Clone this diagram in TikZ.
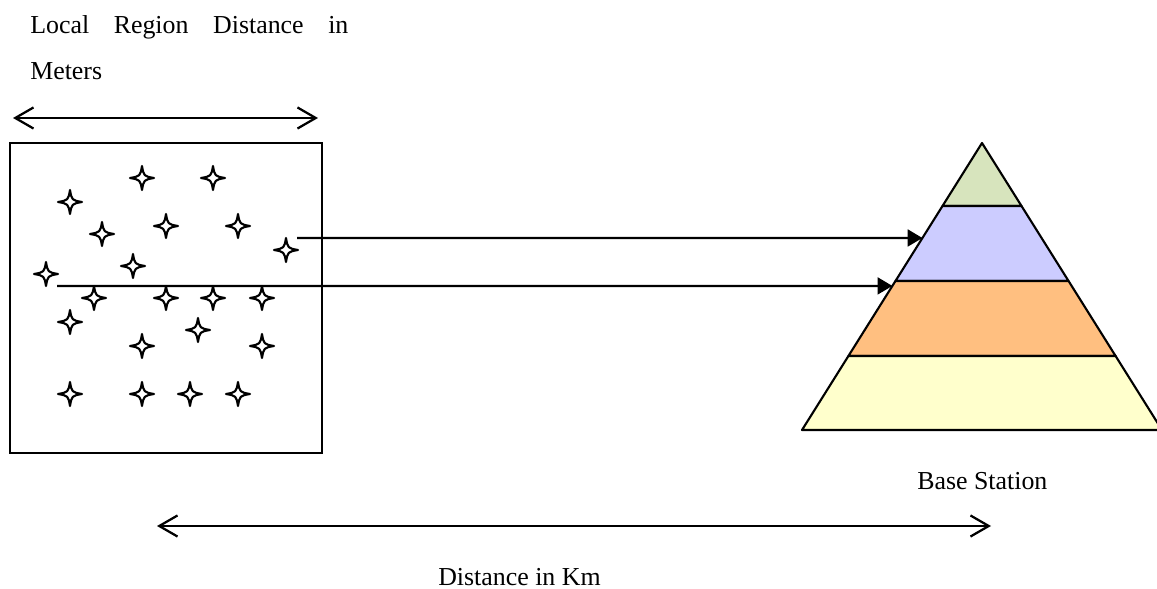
\documentclass[tikz,border=0pt]{standalone}
\usepackage{fontspec}
\setmainfont{Liberation Serif}
\usetikzlibrary{arrows.meta, calc}
\definecolor{tierone}{HTML}{D7E4BD}
\definecolor{tiertwo}{HTML}{CCCCFF}
\definecolor{tierthree}{HTML}{FFBF80}
\definecolor{tierfour}{HTML}{FFFFCC}
\tikzset{
  lbl/.style={font=\fontsize{18.4}{32.6}\selectfont, inner sep=0pt},
  spark/.style={minimum size=0.72cm, inner sep=0pt, outer sep=0pt,
    path picture={
      \draw[line width=1.5pt, line join=round, fill=white,
            shift={(path picture bounding box.center)}]
        (0,12) .. controls (1.8,1.8) .. (12,0) .. controls (1.8,-1.8) .. (0,-12)
        .. controls (-1.8,-1.8) .. (-12,0) .. controls (-1.8,1.8) .. cycle;
    }},
  span/.style={{Straight Barb[length=13pt, width=15pt]}-{Straight Barb[length=13pt, width=15pt]},
               line width=1.6pt},
  link/.style={-{Triangle[length=10.5pt, width=12pt]}, line width=1.6pt},
  tier/.style={draw, line width=1.5pt, line join=round},
}
\begin{document}
\begin{tikzpicture}[x=0.025cm, y=-0.025cm]
  \useasboundingbox (0,0) rectangle (1157,589);

  %% ── Local region ──
  \node[lbl, align=left, anchor=north west] (title) at (30,15)
    {\makebox[7.95cm][s]{Local Region Distance in}\\Meters};
  \coordinate (mL) at (13,118);
  \coordinate (mR) at (318,118);
  \draw[span] (mL) -- (mR);

  \node[draw, line width=1.6pt, minimum width=7.8cm, minimum height=7.75cm,
        inner sep=0pt, outer sep=0pt] (region) at (166,298) {};

  %% Sensor nodes
  \foreach \n/\x/\y in {1/70/202, 2/142/178, 3/213/178, 4/102/234, 5/166/226,
                        6/238/226, 7/286/250, 8/133/266, 9/46/274, 10/94/298,
                        11/166/298, 12/213/298, 13/262/298, 14/70/322, 15/198/330,
                        16/142/346, 17/262/346, 18/70/394, 19/142/394, 20/190/394,
                        21/238/394}{
    \node[spark] (s\n) at (\x,\y) {};
  }

  %% ── Base station pyramid ──
  \coordinate (apex) at (982,143);
  \coordinate (bl) at (802,430);
  \coordinate (br) at (1162,430);
  \foreach \i/\t in {1/0.2195, 2/0.4808, 3/0.7422}{
    \coordinate (l\i) at ($(apex)!\t!(bl)$);
    \coordinate (r\i) at ($(apex)!\t!(br)$);
  }
  \filldraw[tier, fill=tierone]   (apex) -- (l1) -- (r1) -- cycle;
  \filldraw[tier, fill=tiertwo]   (l1) -- (l2) -- (r2) -- (r1) -- cycle;
  \filldraw[tier, fill=tierthree] (l2) -- (l3) -- (r3) -- (r2) -- cycle;
  \filldraw[tier, fill=tierfour]  (l3) -- (bl) -- (br) -- (r3) -- cycle;

  \node[lbl, anchor=base west] (bs) at (917,489) {Base Station};

  %% Links to the tiers
  \coordinate (fromA) at ($(s7)+(11,-12)$);
  \coordinate (fromB) at ($(s9)+(11,12)$);
  \coordinate (tipA) at ($(apex)!0.331!(bl)$);
  \coordinate (tipB) at ($(apex)!0.498!(bl)$);
  \draw[link] (fromA) -- (tipA);
  \draw[link] (fromB) -- (tipB);

  %% ── Distance in Km ──
  \coordinate (kmL) at (157,526);
  \coordinate (kmR) at (991,526);
  \draw[span] (kmL) -- (kmR);
  \node[lbl, anchor=base west] (dkm) at (438,585) {Distance in Km};

\end{tikzpicture}
\end{document}
